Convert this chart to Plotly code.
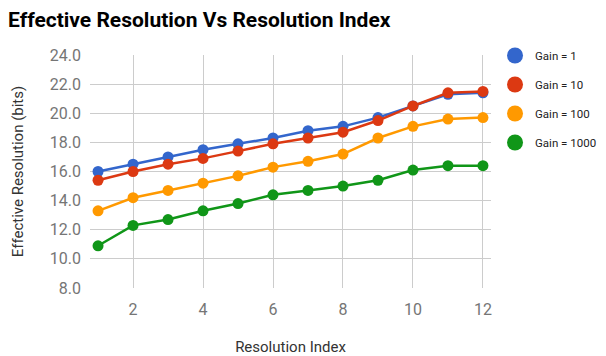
import plotly.graph_objects as go

resolution_index = [1, 2, 3, 4, 5, 6, 7, 8, 9, 10, 11, 12]
gain_1 = [16.0, 16.5, 17.0, 17.5, 17.9, 18.3, 18.8, 19.1, 19.7, 20.5, 21.3, 21.4]
gain_10 = [15.4, 16.0, 16.5, 16.9, 17.4, 17.9, 18.3, 18.7, 19.5, 20.5, 21.4, 21.5]
gain_100 = [13.3, 14.2, 14.7, 15.2, 15.7, 16.3, 16.7, 17.2, 18.3, 19.1, 19.6, 19.7]
gain_1000 = [10.9, 12.3, 12.7, 13.3, 13.8, 14.4, 14.7, 15.0, 15.4, 16.1, 16.4, 16.4]

series = [
    ("Gain = 1", gain_1, "#3366cc"),
    ("Gain = 10", gain_10, "#dc3912"),
    ("Gain = 100", gain_100, "#ff9900"),
    ("Gain = 1000", gain_1000, "#109618"),
]

fig = go.Figure()
for name, vals, color in series:
    fig.add_trace(go.Scatter(
        x=resolution_index, y=vals, mode="lines+markers", name=name,
        line=dict(color=color, width=2.5),
        marker=dict(color=color, size=11),
        showlegend=False,
    ))
# legend entries: plain circles like the original
for name, vals, color in series:
    fig.add_trace(go.Scatter(
        x=[None], y=[None], mode="markers", name=name,
        marker=dict(color=color, size=16),
        legendgroup=name,
    ))

# page body has an 8px margin, so the figure is 8px smaller than the window
fig.update_layout(
    width=598, height=348,
    margin=dict(l=82, r=115, t=47, b=68, autoexpand=False),
    paper_bgcolor="white", plot_bgcolor="white",
    font=dict(family="Roboto", color="#757575", size=16),
    title=dict(text="<b>Effective Resolution Vs Resolution Index</b>",
               x=0, xanchor="left", yref="container", y=0.966, yanchor="middle",
               pad=dict(l=0, t=0), automargin=False, font=dict(size=21, color="#000000")),
    xaxis=dict(range=[0.77, 12.23], tickvals=[2, 4, 6, 8, 10, 12],
               showgrid=True, gridcolor="#cccccc", gridwidth=1, zeroline=False,
               showline=False, ticks="", ticklabelstandoff=10, automargin=False,
               title=dict(text="Resolution Index", font=dict(size=15, color="#333333"), standoff=40)),
    yaxis=dict(range=[8, 24], tickvals=[8, 10, 12, 14, 16, 18, 20, 22, 24],
               tickformat=".1f", showgrid=True, gridcolor="#cccccc", gridwidth=1,
               zeroline=False, showline=False, ticks="", ticklabelstandoff=8, automargin=False,
               title=dict(text="Effective Resolution (bits)", font=dict(size=15, color="#333333"), standoff=22)),
    legend=dict(x=1.01, xanchor="left", y=1.06, yanchor="top",
                font=dict(size=11.5, color="#222222"), tracegroupgap=10,
                itemsizing="trace"),
)

fig.write_html("out.html")
